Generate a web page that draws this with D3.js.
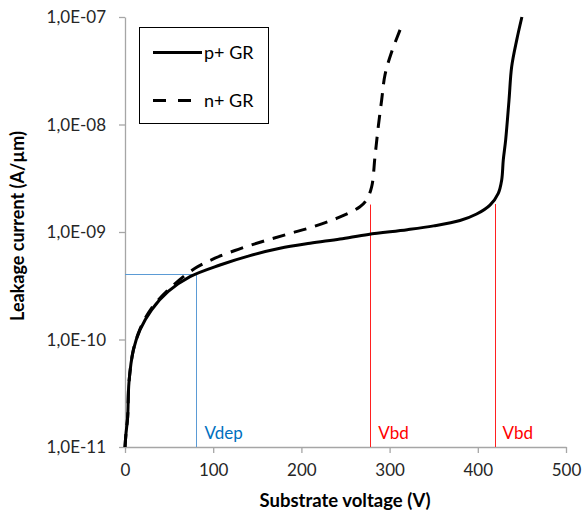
<!DOCTYPE html>
<html><head><meta charset="utf-8">
<script src="https://cdn.jsdelivr.net/npm/d3@7"></script>
<style>
html,body{margin:0;padding:0;background:#fff;}
text{font-family:Lato,"Liberation Sans",sans-serif;}
</style></head>
<body>
<svg id="c" width="582" height="516"></svg>
<script>
// ---- data ----
const pV = [0, 1, 3, 4.5, 9.5, 17, 30, 49, 73.7, 107.7, 141.7, 175.7, 209.8, 243.8, 275.9, 320, 350, 379.8, 398.7, 413.8, 423.2, 427.1, 428.9, 431.6, 435.4, 438.4, 444.1, 450];
const pI = [1e-11, 1.3e-11, 1.9e-11, 4e-11, 8e-11, 1.23e-10, 1.88e-10, 2.8e-10, 3.84e-10, 4.93e-10, 6.03e-10, 7.05e-10, 7.85e-10, 8.6e-10, 9.5e-10, 1.05e-9, 1.14e-9, 1.28e-9, 1.47e-9, 1.78e-9, 2.29e-9, 3.05e-9, 4.68e-9, 7.2e-9, 1.69e-8, 3.45e-8, 6.1e-8, 1.0e-7];
const nV = [0, 1, 3, 4.5, 9.5, 17, 30, 53, 79.4, 102, 128.5, 156.8, 185.2, 213.5, 241.9, 266.4, 274, 279.7, 283.4, 287.2, 291, 294.8, 302.4, 315];
const nI = [1e-11, 1.3e-11, 1.9e-11, 4e-11, 8e-11, 1.25e-10, 1.95e-10, 3.1e-10, 4.6e-10, 5.7e-10, 6.9e-10, 8.2e-10, 9.6e-10, 1.12e-9, 1.36e-9, 1.72e-9, 2.0e-9, 2.64e-9, 5.0e-9, 9.6e-9, 1.69e-8, 2.9e-8, 4.75e-8, 8.8e-8];
const seriesNames = ["p+ GR", "n+ GR"];
const xTicks = [0, 100, 200, 300, 400, 500];
const yTicks = [1e-11, 1e-10, 1e-9, 1e-8, 1e-7];
const yTickLabels = ["1,0E-11", "1,0E-10", "1,0E-09", "1,0E-08", "1,0E-07"];
const vdep = {v: 80, i: 4.05e-10, label: "Vdep"};
const vbdV = [278, 419];
const vbdI = [1.8e-9, 1.82e-9];
const vbdLabel = "Vbd";
const xTitle = "Substrate voltage (V)";
const yTitle = "Leakage current (A/\u00b5m)";

// ---- layout ----
const svg = d3.select("#c");
const x = d3.scaleLinear().domain([0, 500]).range([125, 566]);
const y = d3.scaleLog().domain([1e-11, 1e-7]).range([447, 17]);
const axisColor = "#a6a6a6";
const tickText = "#262626";
const px = v => Math.round(x(v)) + 0.5;

// axes
const gx = svg.append("g").attr("transform", `translate(0,${y(1e-11)})`)
  .call(d3.axisBottom(x).tickValues(xTicks).tickSize(6).tickSizeOuter(0).tickPadding(11));
const gy = svg.append("g").attr("transform", `translate(${x(0)},0)`)
  .call(d3.axisLeft(y).tickValues(yTicks).tickFormat((d, i) => yTickLabels[i]).tickSize(6).tickSizeOuter(0).tickPadding(13));
[gx, gy].forEach(g => {
  g.selectAll("path.domain").attr("stroke", axisColor).attr("stroke-width", 1.3);
  g.selectAll(".tick line").attr("stroke", axisColor).attr("stroke-width", 1.3);
  g.selectAll(".tick text").attr("fill", tickText).style("font-size", "17px").style("font-family", "Lato, sans-serif");
});
gy.selectAll(".tick text").attr("dy", "0.35em");

// titles
svg.append("text").attr("x", 345).attr("y", 507).attr("text-anchor", "middle")
  .style("font-size", "18.5px").style("font-weight", "bold").attr("fill", "#000").text(xTitle);
svg.append("text").attr("transform", "translate(24,226) rotate(-90)").attr("text-anchor", "middle")
  .style("font-size", "18px").style("font-weight", "bold").attr("fill", "#000").text(yTitle);

// Vdep annotation
const blueLine = "#5b9bd5";
const yd = Math.round(y(vdep.i)) + 0.5;
svg.append("line").attr("x1", x(0)).attr("x2", px(vdep.v)).attr("y1", yd).attr("y2", yd)
  .attr("stroke", blueLine).attr("stroke-width", 1);
svg.append("line").attr("x1", px(vdep.v)).attr("x2", px(vdep.v)).attr("y1", yd).attr("y2", y(1e-11))
  .attr("stroke", blueLine).attr("stroke-width", 1);
svg.append("text").attr("x", x(vdep.v) + 9).attr("y", 439).attr("fill", "#0070c0")
  .style("font-size", "17px").text(vdep.label);

// Vbd annotations
vbdV.forEach((v, k) => {
  svg.append("line").attr("x1", px(v)).attr("x2", px(v)).attr("y1", y(vbdI[k])).attr("y2", y(1e-11))
    .attr("stroke", "#ff2020").attr("stroke-width", 1);
  svg.append("text").attr("x", x(v) + 8).attr("y", 439).attr("fill", "#ff0000")
    .style("font-size", "17px").text(vbdLabel);
});

// curves
const line = d3.line().x(d => x(d[0])).y(d => y(d[1])).curve(d3.curveCatmullRom.alpha(0.5));
const pData = pV.map((v, i) => [v, pI[i]]);
const nData = nV.map((v, i) => [v, nI[i]]);
svg.append("path").datum(nData).attr("d", line).attr("fill", "none")
  .attr("stroke", "#000").attr("stroke-width", 3).attr("stroke-dasharray", "13,9");
svg.append("path").datum(pData).attr("d", line).attr("fill", "none")
  .attr("stroke", "#000").attr("stroke-width", 3);

// legend
const lg = svg.append("g");
lg.append("rect").attr("x", 139.5).attr("y", 27.5).attr("width", 129).attr("height", 96)
  .attr("fill", "#fff").attr("stroke", "#000").attr("stroke-width", 1);
lg.append("line").attr("x1", 153).attr("x2", 202).attr("y1", 52.5).attr("y2", 52.5)
  .attr("stroke", "#000").attr("stroke-width", 3);
lg.append("line").attr("x1", 153).attr("x2", 191).attr("y1", 100.5).attr("y2", 100.5)
  .attr("stroke", "#000").attr("stroke-width", 3).attr("stroke-dasharray", "13,12");
lg.append("text").attr("x", 204).attr("y", 58.5).style("font-size", "18px").attr("fill", "#000").text(seriesNames[0]);
lg.append("text").attr("x", 204).attr("y", 106.5).style("font-size", "18px").attr("fill", "#000").text(seriesNames[1]);
</script>
</body></html>
